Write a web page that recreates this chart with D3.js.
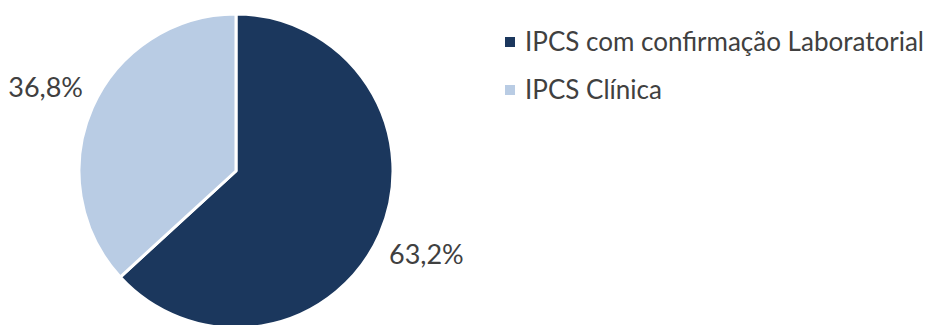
<!DOCTYPE html>
<html><head><meta charset="utf-8">
<script src="https://cdn.jsdelivr.net/npm/d3@7"></script>
<style>body{margin:0;background:#fff}svg{display:block}text{font-family:Lato,"Open Sans",sans-serif;fill:#404040}</style>
</head><body><svg id="c" width="928" height="325"></svg>
<script>
const categories = ["IPCS com confirmação Laboratorial", "IPCS Clínica"];
const values = [63.2, 36.8];
const labels = ["63,2%", "36,8%"];
const colors = ["#1b375d", "#b9cce4"];

const svg = d3.select("#c");
const cx = 236, cy = 171, R = 157;
const pie = d3.pie().sort(null).value(d => d.v);
const data = pie(values.map((v, i) => ({v, i})));
const arc = d3.arc().innerRadius(0).outerRadius(R);
const labelArc = d3.arc().innerRadius(208).outerRadius(208);
const g = svg.append("g").attr("transform", `translate(${cx},${cy})`);
g.selectAll("path").data(data).join("path")
  .attr("d", arc).attr("fill", d => colors[d.data.i])
  .attr("stroke", "#fff").attr("stroke-width", 3).attr("stroke-linejoin", "round");
g.selectAll("text.l").data(data).join("text").attr("class", "l")
  .attr("transform", d => `translate(${labelArc.centroid(d)})`)
  .attr("text-anchor", "middle").attr("dy", "0.35em")
  .style("font-size", "27px").text(d => labels[d.data.i]);

const leg = svg.append("g").attr("transform", "translate(505,0)");
const item = leg.selectAll("g").data(categories).join("g")
  .attr("transform", (d, i) => `translate(0,${42 + i * 48})`);
item.append("rect").attr("x", 0).attr("y", -5).attr("width", 10).attr("height", 10)
  .attr("fill", (d, i) => colors[i]);
item.append("text").attr("x", 20).attr("dy", "0.35em").style("font-size", "26px").text(d => d);
</script></body></html>
